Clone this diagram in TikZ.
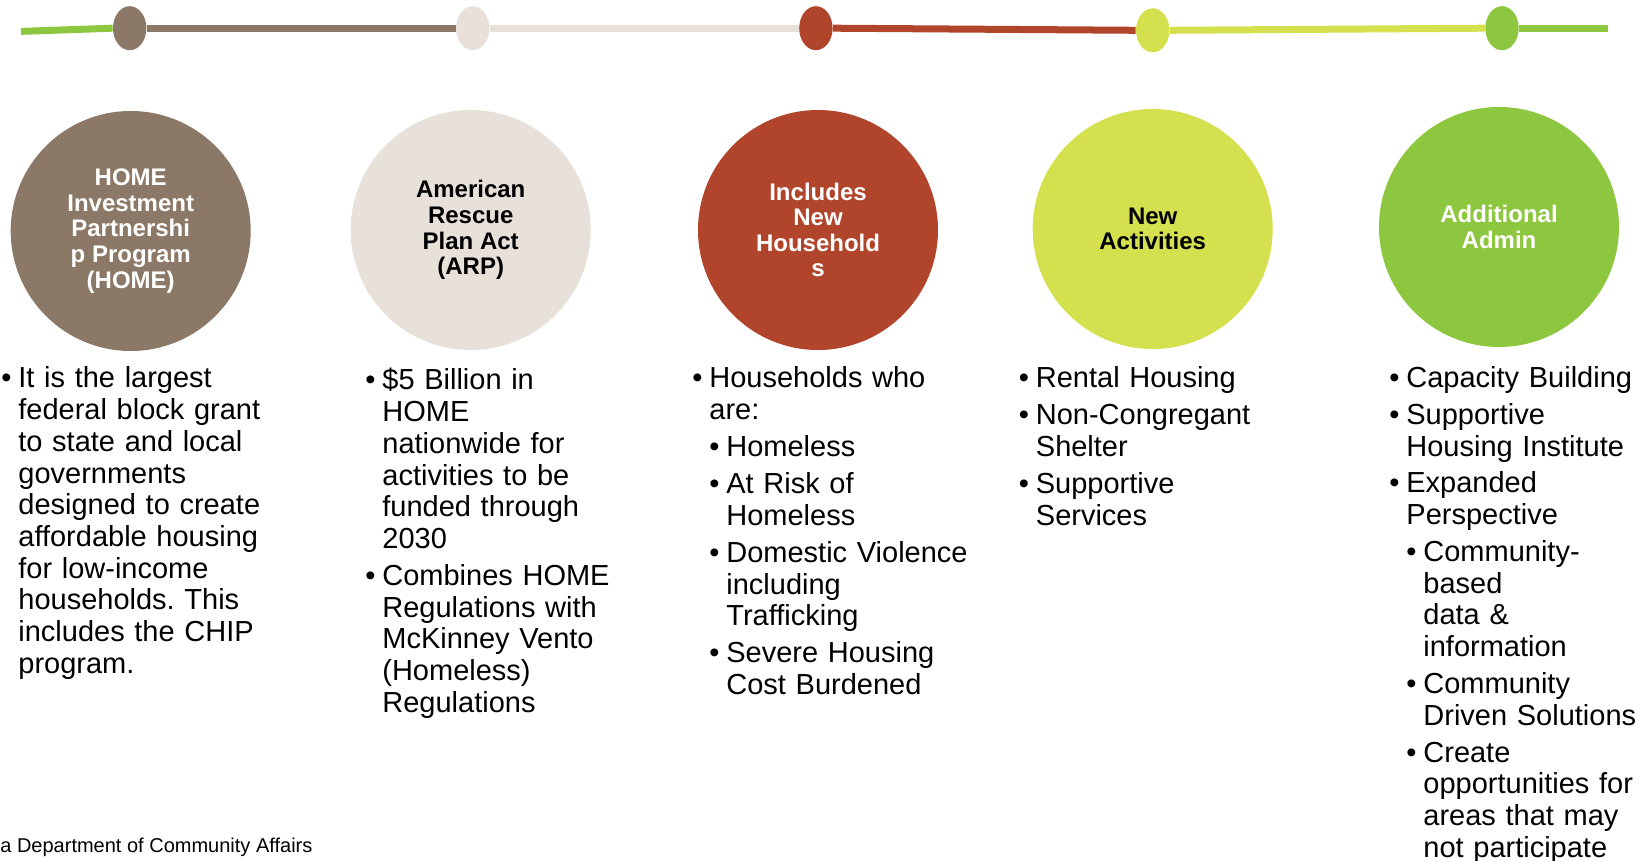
\documentclass[tikz,border=0pt]{standalone}
\usepackage{fontspec}
\setmainfont{Liberation Sans}
\usetikzlibrary{shapes.geometric}
\definecolor{cbrown}{RGB}{139,120,102}
\definecolor{cbeige}{RGB}{232,225,218}
\definecolor{cred}{RGB}{176,69,44}
\definecolor{cyellow}{RGB}{212,224,78}
\definecolor{cgreen}{RGB}{141,198,63}
\frenchspacing
\newcommand\bitem[2][0]{\hangindent=\dimexpr#1pt+8.5pt\relax\hangafter=1\noindent\hskip#1pt\makebox[8.5pt][l]{•}#2\par}
\begin{document}
\begin{tikzpicture}[x=0.5pt,y=-0.5pt,
  dot/.style={ellipse, minimum width=16.7pt, minimum height=22pt, inner sep=0pt, draw=none},
  seg/.style={line width=3.5pt},
  circ/.style={circle, minimum size=120pt, inner sep=0pt, align=center,
    font=\fontsize{12pt}{12.8pt}\selectfont\bfseries},
  body/.style={anchor=base west, inner sep=0pt,
    font=\fontsize{14.5pt}{15.85pt}\selectfont\frenchspacing}
]
\useasboundingbox (0,0) rectangle (1640,861);

% timeline
\node[dot, fill=cbrown]  (e1) at (129.7,28.2) {};
\node[dot, fill=cbeige]  (e2) at (472.8,28.2) {};
\node[dot, fill=cred]    (e3) at (815.9,28.2) {};
\node[dot, fill=cyellow] (e4) at (1152.7,30.3) {};
\node[dot, fill=cgreen]  (e5) at (1502,28.2) {};
\coordinate (ls) at (21,31.4);
\coordinate (le) at (1608,28.2);
\draw[seg, cgreen]  (ls) -- (e1.west);
\draw[seg, cbrown]  (e1.east) -- (e2.west);
\draw[seg, cbeige]  (e2.east) -- (e3.west);
\draw[seg, cred]    (e3.east) -- (e4.west);
\draw[seg, cyellow] (e4.east) -- (e5.west);
\draw[seg, cgreen]  (e5.east) -- (le);

% circles
\node[circ, fill=cbrown, text=white] (c1) at (130.7,231) {HOME\\Investment\\Partnershi\\p Program\\(HOME)};
\node[circ, fill=cbeige, text=black] (c2) at (470.7,230) {American\\Rescue\\Plan Act\\(ARP)};
\node[circ, fill=cred, text=white] (c3) at (818,230) {Includes\\New\\Household\\s};
\node[circ, fill=cyellow, text=black] (c4) at (1152.7,229) {New\\Activities};
\node[circ, fill=cgreen, text=white] (c5) at (1499,227) {Additional\\Admin};

% text columns
\node[body, text width=140pt] (t1) at (1,388) {\setlength\parskip{2.65pt}%
\bitem{It is the largest\newline federal block grant\newline to state and local\newline governments\newline designed to create\newline affordable housing\newline for low-income\newline households. This\newline includes the CHIP\newline program.}};

\node[body, text width=140pt] (t2) at (365,390) {\setlength\parskip{2.65pt}%
\bitem{\$5 Billion in\newline HOME\newline nationwide for\newline activities to be\newline funded through\newline 2030}%
\bitem{Combines HOME\newline Regulations with\newline McKinney Vento\newline (Homeless)\newline Regulations}};

\node[body, text width=150pt] (t3) at (692,388) {\setlength\parskip{2.65pt}%
\bitem{Households who\newline are:}%
\bitem[8.5]{Homeless}%
\bitem[8.5]{At Risk of\newline Homeless}%
\bitem[8.5]{Domestic Violence\newline including\newline Trafficking}%
\bitem[8.5]{Severe Housing\newline Cost Burdened}};

\node[body, text width=150pt] (t4) at (1018.5,388) {\setlength\parskip{2.65pt}%
\bitem{Rental Housing}%
\bitem{Non-Congregant\newline Shelter}%
\bitem{Supportive\newline Services}};

\node[body, text width=125pt] (t5) at (1389,387.5) {\setlength\parskip{2.6pt}%
\bitem{Capacity Building}%
\bitem{Supportive\newline Housing Institute}%
\bitem{Expanded\newline Perspective}%
\bitem[8.5]{Community-\newline based\newline data \&\newline information}%
\bitem[8.5]{Community\newline Driven Solutions}%
\bitem[8.5]{Create\newline opportunities for\newline areas that may\newline not participate}};

% footer
\node[anchor=base west, inner sep=0pt, font=\fontsize{10pt}{12pt}\selectfont] (footer) at (0,852.7) {a Department of Community Affairs};
\end{tikzpicture}
\end{document}
